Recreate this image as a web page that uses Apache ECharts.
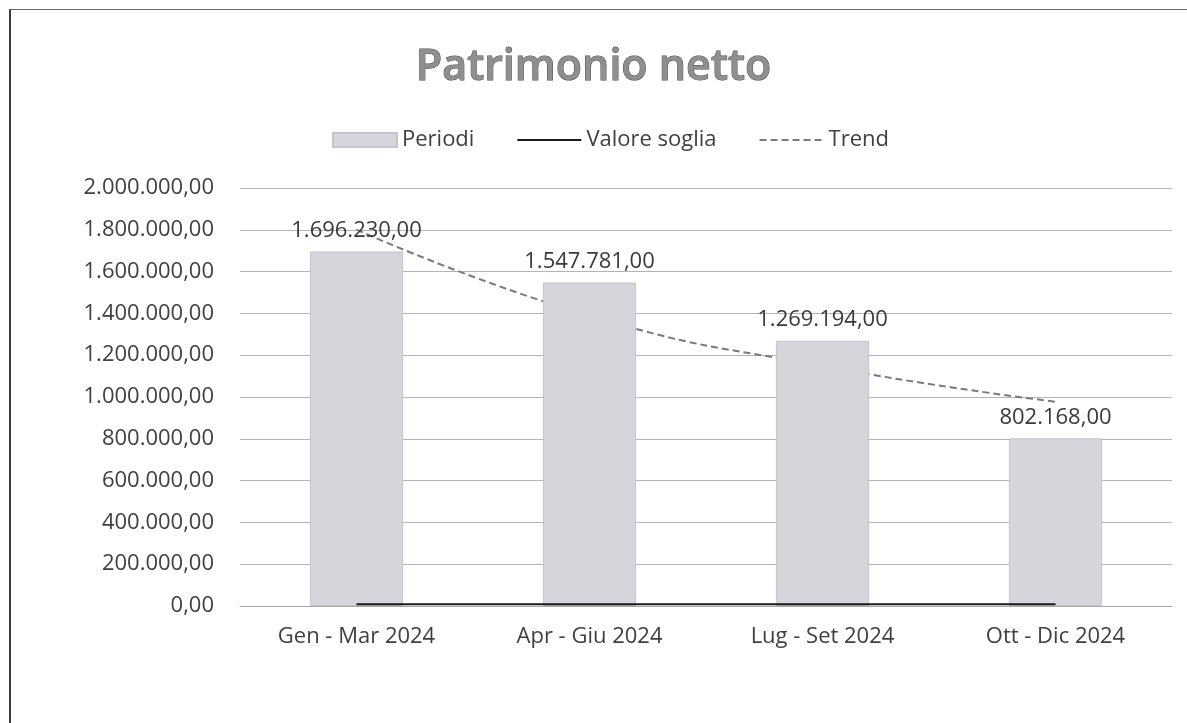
<!DOCTYPE html>
<html lang="it">
<head>
<meta charset="UTF-8">
<title>Patrimonio netto</title>
<script src="https://cdn.jsdelivr.net/npm/echarts@6/dist/echarts.min.js"></script>
<style>
  html, body { margin: 0; padding: 0; overflow: hidden; background: #fff; width: 1187px; height: 723px; }
  #frame { position: absolute; left: 9px; top: 9px; width: 1178px; height: 714px;
           border-left: 2px solid #3a3a3a; border-top: 1px solid #6a6a6a; box-sizing: border-box; }
  #main { position: absolute; left: 0; top: 0; width: 1187px; height: 723px; }
</style>
</head>
<body>
<div id="frame"></div>
<div id="main"></div>
<script>
  var periodi = ['Gen - Mar 2024', 'Apr - Giu 2024', 'Lug - Set 2024', 'Ott - Dic 2024'];
  var valori = [1696230, 1547781, 1269194, 802168];
  var soglia = [8000, 8000, 8000, 8000];
  var trend = [1800700, 1389000, 1148200, 977400];

  // formato italiano: 1.234.567,00
  function fmt(v) {
    var s = Math.round(v).toString().replace(/\B(?=(\d{3})+(?!\d))/g, '.');
    return s + ',00';
  }

  var font = '"Open Sans", "Noto Sans", sans-serif';
  var chart = echarts.init(document.getElementById('main'));

  chart.setOption({
    animation: false,
    textStyle: { fontFamily: font },
    title: {
      text: 'Patrimonio netto',
      left: 'center',
      top: 41,
      textStyle: {
        fontFamily: font, fontSize: 43, fontWeight: 600,
        color: '#8f8f8f', textBorderColor: '#4a4a4a', textBorderWidth: 1
      }
    },
    legend: {
      left: 327,
      top: 124,
      itemWidth: 64,
      itemHeight: 14,
      itemGap: 42,
      textStyle: { fontFamily: font, fontSize: 22, color: '#404040' },
      data: [
        { name: 'Periodi', icon: 'rect' },
        { name: 'Valore soglia', itemStyle: { opacity: 0 } },
        { name: 'Trend', itemStyle: { opacity: 0 } }
      ]
    },
    grid: { left: 240, right: 15, top: 188, bottom: 117 },
    xAxis: {
      type: 'category',
      data: periodi,
      axisTick: { show: false },
      axisLine: { lineStyle: { color: '#a8a8a8', width: 1 } },
      axisLabel: { fontFamily: font, fontSize: 22, color: '#404040', margin: 20 }
    },
    yAxis: {
      type: 'value',
      min: 0,
      max: 2000000,
      interval: 200000,
      axisLabel: { fontFamily: font, fontSize: 22, color: '#404040', margin: 26, formatter: fmt },
      splitLine: { lineStyle: { color: '#b4b4b4', width: 1 } }
    },
    series: [
      {
        name: 'Periodi',
        type: 'bar',
        data: valori,
        barWidth: '40%',
        z: 2,
        itemStyle: { color: '#d5d5dc', borderColor: '#c4c4cc', borderWidth: 1 },
        label: {
          show: true, position: 'top', distance: 10,
          fontFamily: font, fontSize: 22, color: '#3a3a3a',
          formatter: function (p) { return fmt(p.value); }
        }
      },
      {
        name: 'Valore soglia',
        type: 'line',
        data: soglia,
        symbol: 'none',
        z: 3,
        lineStyle: { color: '#1a1a1a', width: 2 },
        itemStyle: { color: '#1a1a1a' }
      },
      {
        name: 'Trend',
        type: 'line',
        data: trend,
        symbol: 'none',
        smooth: true,
        z: 1,
        lineStyle: { color: '#7a7a7a', width: 2, type: [7, 4] },
        itemStyle: { color: '#7a7a7a' }
      }
    ]
  });
</script>
</body>
</html>
